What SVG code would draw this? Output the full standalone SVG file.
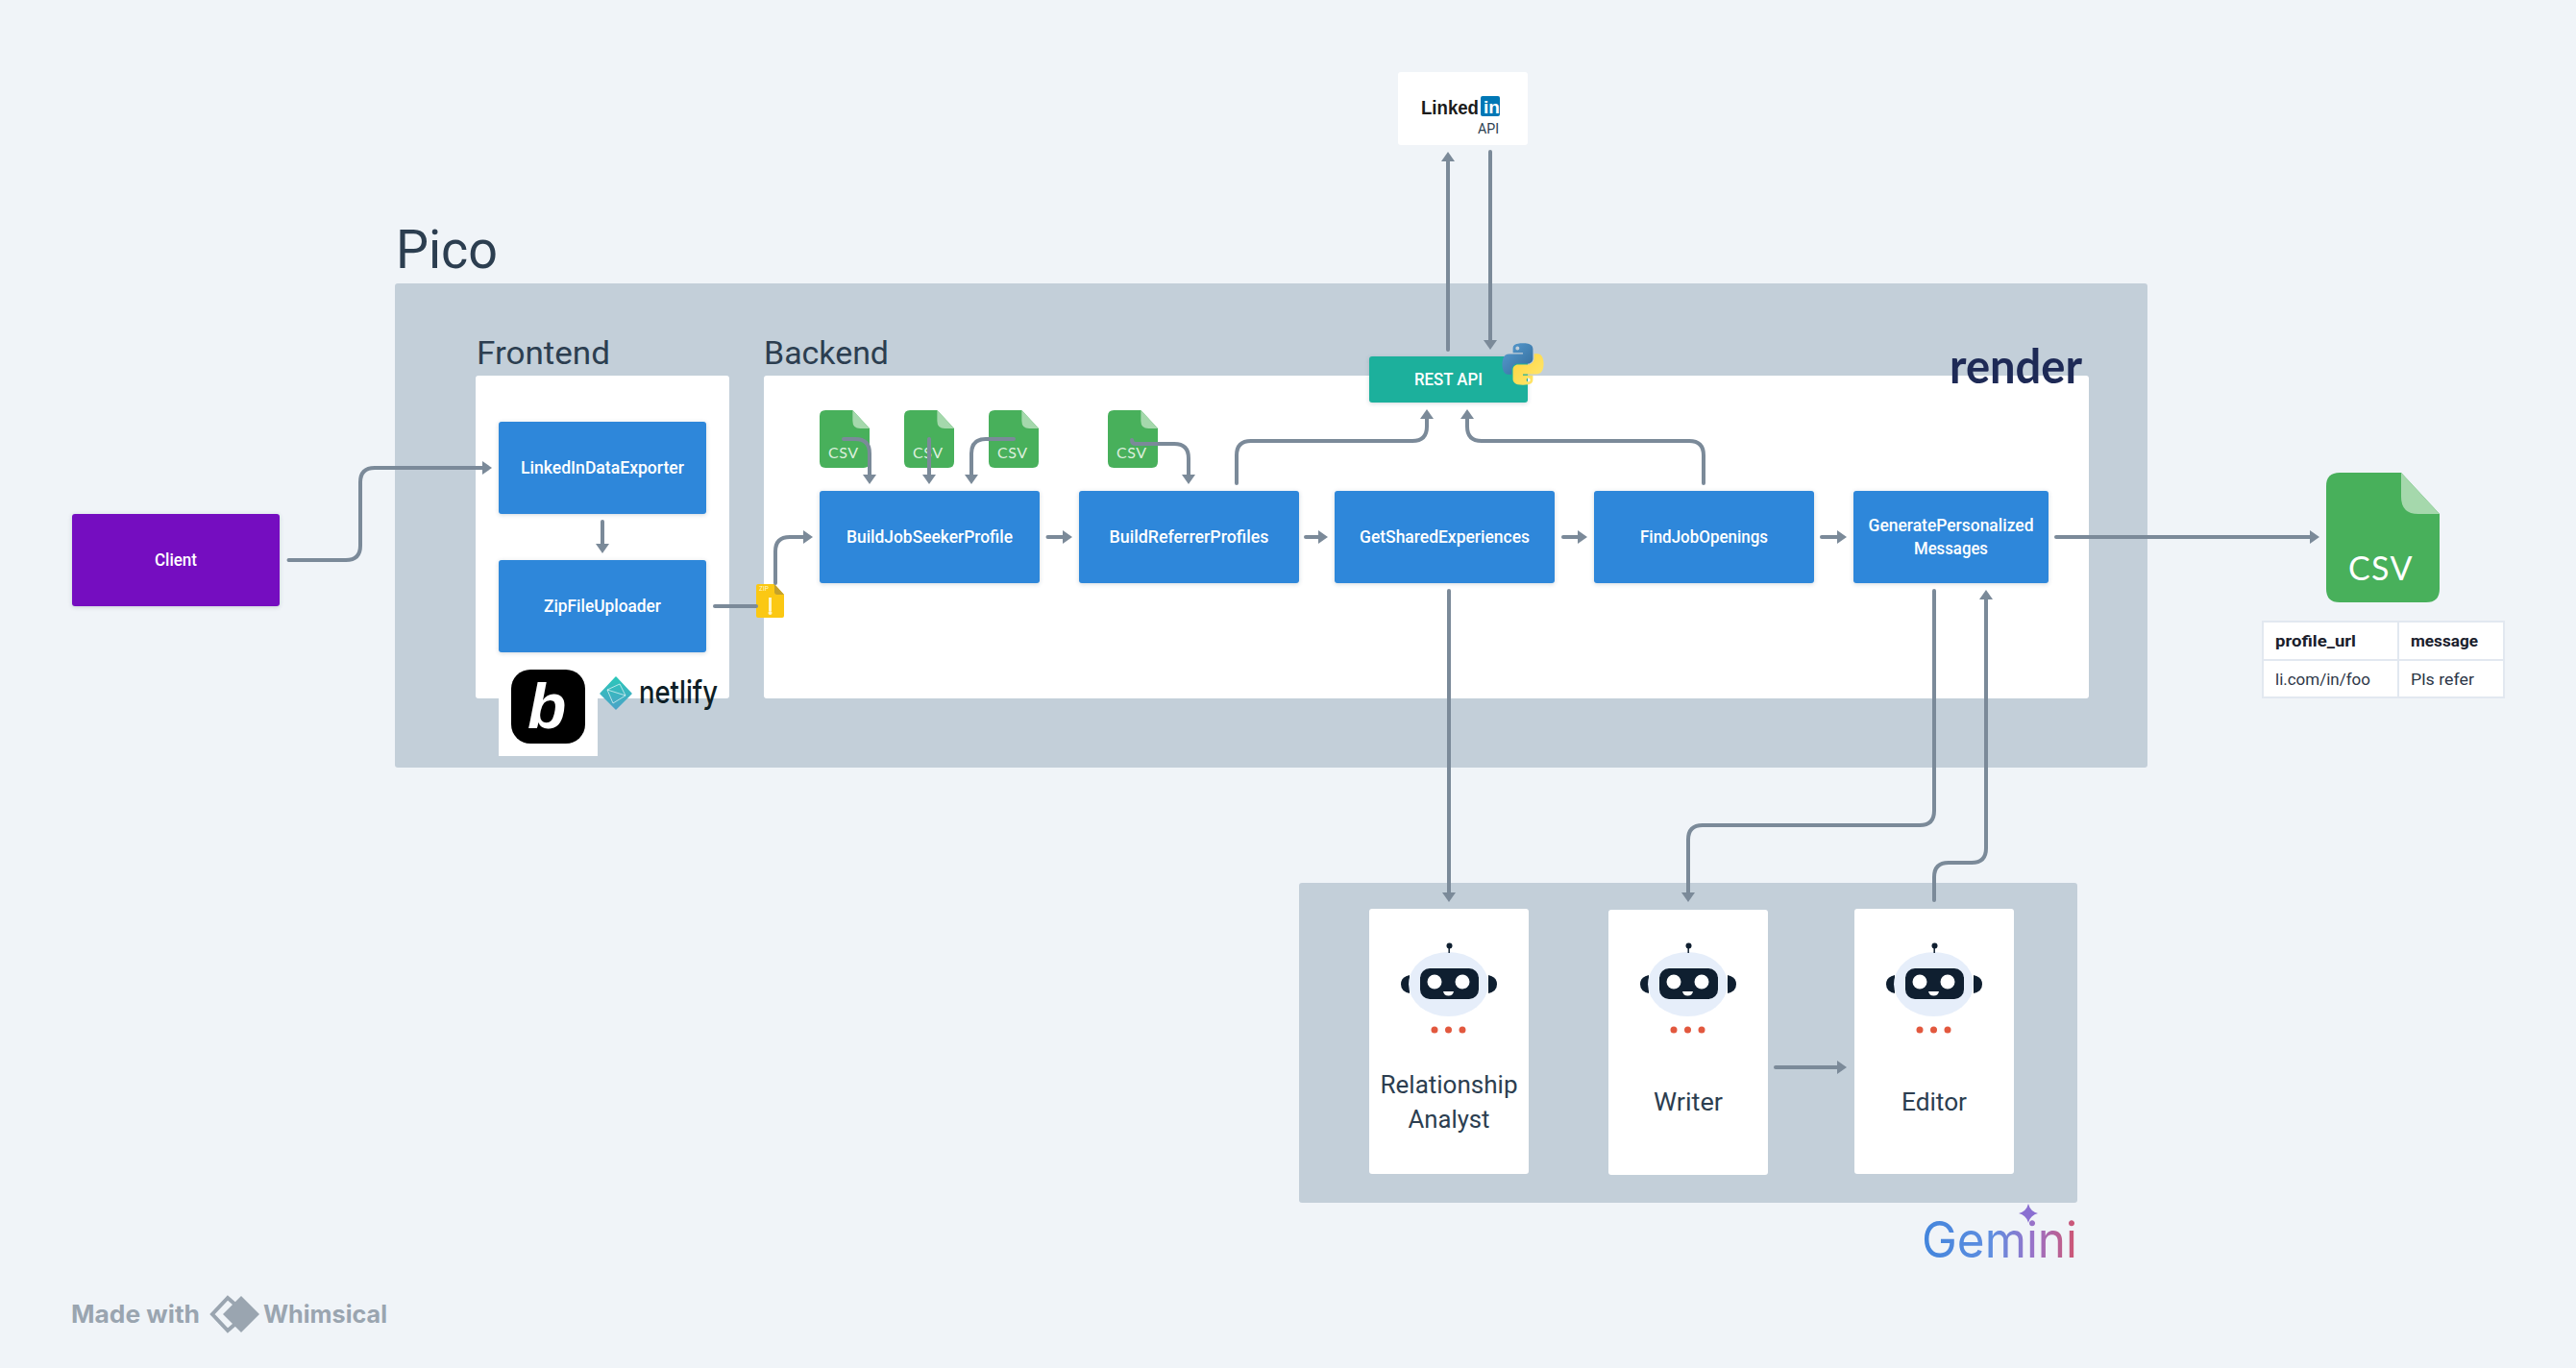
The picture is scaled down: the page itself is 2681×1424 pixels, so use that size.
<svg xmlns="http://www.w3.org/2000/svg" xmlns:xlink="http://www.w3.org/1999/xlink" width="2681" height="1424" viewBox="0 0 2681 1424">
<style>
text{font-family:Roboto,"Liberation Sans",sans-serif}
.panel{fill:#c3cfd9}
.white{fill:#fff}
.blue{fill:#2d87da;filter:url(#sh)}
.nt{fill:#fff;font-size:18px;font-weight:500;text-anchor:middle}
.title{fill:#2c3e50;font-weight:400}
.h2{font-size:34px}
.agent{fill:#2c3e50;font-size:26px;font-weight:400;text-anchor:middle}
.csvt{fill:#dcefdd;font-family:Lato,"Open Sans",sans-serif;font-size:16px;letter-spacing:.5px}
.cell{fill:#2d3748;font-size:17px}
.cellb{fill:#1a202c;font-size:17px;font-weight:700}
.wm{fill:#9aa5b0;font-family:Inter,sans-serif;font-weight:700;font-size:25px}
#connectors path{fill:none;stroke:#7b8a99;stroke-width:4;stroke-linecap:round}
#connectors .a{marker-end:url(#arrow)}
</style>
<defs>
<filter id="sh" x="-5%" y="-5%" width="110%" height="115%"><feDropShadow dx="0" dy="1" stdDeviation="2" flood-color="#3a4a5a" flood-opacity=".22"/></filter>
<marker id="arrow" markerUnits="userSpaceOnUse" viewBox="0 0 10 14" refX="1" refY="7" markerWidth="10" markerHeight="14" orient="auto"><path d="M0 0L10 7L0 14Z" fill="#7b8a99"/></marker>
<symbol id="file" viewBox="0 0 118 135" preserveAspectRatio="none">
<path d="M14 0H78L118 43V121Q118 135 104 135H14Q0 135 0 121V14Q0 0 14 0Z" fill="#48b05b"/>
<path d="M78 0L118 43H96Q78 43 78 25Z" fill="#a5d8ac"/>
</symbol>
<symbol id="robot" viewBox="0 0 100 95" overflow="visible">
<path d="M9 33Q0 35 0 42.500Q0 50 9 52Z" fill="#0f1f30"/>
<path d="M91 33Q100 35 100 42.500Q100 50 91 52Z" fill="#0f1f30"/>
<ellipse cx="49.500" cy="42.500" rx="41.500" ry="33.500" fill="#e6eefa"/>
<rect x="20" y="26" width="61" height="32" rx="10" fill="#0f1f30"/>
<circle cx="35" cy="40" r="7.500" fill="#fff"/>
<circle cx="64" cy="40" r="7.500" fill="#fff"/>
<path d="M44 50H55Q54 54.500 49.500 54.500Q45 54.500 44 50Z" fill="#fff"/>
<path d="M50.200 4V10" stroke="#0f1f30" stroke-width="1.500"/>
<circle cx="50.500" cy="2.500" r="3" fill="#0f1f30"/>
<circle cx="35" cy="90" r="3.500" fill="#e2583e"/>
<circle cx="49.500" cy="90" r="3.500" fill="#e2583e"/>
<circle cx="64" cy="90" r="3.500" fill="#e2583e"/>
</symbol>
<linearGradient id="py1" x1="0" y1="0" x2="1" y2="1"><stop offset="0" stop-color="#5a9fd4"/><stop offset="1" stop-color="#306998"/></linearGradient>
<linearGradient id="py2" x1="0" y1="0" x2="1" y2="1"><stop offset="0" stop-color="#ffe873"/><stop offset="1" stop-color="#ffd43b"/></linearGradient>
<linearGradient id="nf" x1="0" y1="0" x2="0" y2="1"><stop offset="0" stop-color="#2bc7b9"/><stop offset="1" stop-color="#4ba3c7"/></linearGradient>
<linearGradient id="gem" gradientUnits="userSpaceOnUse" x1="2000" y1="0" x2="2162" y2="0"><stop offset="0" stop-color="#4285dc"/><stop offset=".45" stop-color="#5f8ee0"/><stop offset=".72" stop-color="#9a72c8"/><stop offset="1" stop-color="#d0546f"/></linearGradient>
</defs>
<rect width="2681" height="1424" fill="#f0f4f8"/>

<g id="pico">
<text class="title" x="412" y="279" font-size="56" textLength="106" lengthAdjust="spacingAndGlyphs">Pico</text>
<rect class="panel" x="411" y="295" width="1824" height="504" rx="3"/>
</g>
<g id="frontend">
<text class="title h2" x="496" y="379" textLength="139" lengthAdjust="spacingAndGlyphs">Frontend</text>
<rect class="white" x="495" y="391" width="264" height="336" rx="3"/>
<rect class="white" x="519" y="680" width="103" height="107"/>
</g>
<g id="backend">
<text class="title h2" x="795" y="379" textLength="130" lengthAdjust="spacingAndGlyphs">Backend</text>
<rect class="white" x="795" y="391" width="1379" height="336" rx="3"/>
<text id="render" x="2029" y="399" fill="#1e2a56" font-size="50" font-weight="700" textLength="138" lengthAdjust="spacingAndGlyphs" style="font-family:Lato,sans-serif">render</text>
</g>
<g id="client">
<rect x="75" y="535" width="216" height="96" rx="3" fill="#7410c0" filter="url(#sh)"/>
<text class="nt" x="183" y="589" textLength="44" lengthAdjust="spacingAndGlyphs">Client</text>
</g>
<g id="linkedin-exporter">
<rect class="blue" x="519" y="439" width="216" height="96" rx="3"/>
<text class="nt" x="627" y="493" textLength="170" lengthAdjust="spacingAndGlyphs">LinkedInDataExporter</text>
</g>
<g id="zip-uploader">
<rect class="blue" x="519" y="583" width="216" height="96" rx="3"/>
<text class="nt" x="627" y="637" textLength="122" lengthAdjust="spacingAndGlyphs">ZipFileUploader</text>
</g>
<g id="bolt-logo">
<rect x="532" y="697" width="77" height="77" rx="20" fill="#000"/>
<text x="549" y="758" fill="#fff" font-size="66" font-weight="700" font-style="italic" style="font-family:'Liberation Sans',sans-serif">b</text>
</g>
<g id="netlify-logo">
<path d="M641 705L657 722L641 738L625 722Z" fill="url(#nf)" stroke="url(#nf)" stroke-width="1.500" stroke-linejoin="round"/>
<path d="M632 718L645 712M632 718L638 732M645 712L651 724L638 732M632 718L651 724" fill="none" stroke="#fff" stroke-width=".8" opacity=".8"/>
<text x="665" y="732" fill="#0e1e25" font-size="33" font-weight="500" textLength="82" lengthAdjust="spacingAndGlyphs" style="font-family:Inter,sans-serif">netlify</text>
</g>
<g id="zip-file">
<path d="M789 608H806L816 619V641Q816 643 814 643H789Q787 643 787 641V610Q787 608 789 608Z" fill="#fbc813"/>
<path d="M806 608L816 619H809Q806 619 806 616Z" fill="#c3a12c"/>
<text x="790" y="615" fill="#fff6cc" font-size="6.500">ZIP</text>
<rect x="800" y="622" width="3" height="14" fill="#fff6cc"/>
<circle cx="801.500" cy="638" r="2" fill="#fff6cc"/>
</g>
<g id="csv1"><use href="#file" x="853" y="427" width="52" height="60"/><text class="csvt" x="862" y="477">CSV</text></g>
<g id="csv2"><use href="#file" x="941" y="427" width="52" height="60"/><text class="csvt" x="950" y="477">CSV</text></g>
<g id="csv3"><use href="#file" x="1029" y="427" width="52" height="60"/><text class="csvt" x="1038" y="477">CSV</text></g>
<g id="csv4"><use href="#file" x="1153" y="427" width="52" height="60"/><text class="csvt" x="1162" y="477">CSV</text></g>
<g id="build-job-seeker">
<rect class="blue" x="853" y="511" width="229" height="96" rx="3"/>
<text class="nt" x="967.500" y="565" textLength="173" lengthAdjust="spacingAndGlyphs">BuildJobSeekerProfile</text>
</g>
<g id="build-referrer">
<rect class="blue" x="1123" y="511" width="229" height="96" rx="3"/>
<text class="nt" x="1237.500" y="565" textLength="166" lengthAdjust="spacingAndGlyphs">BuildReferrerProfiles</text>
</g>
<g id="get-shared">
<rect class="blue" x="1389" y="511" width="229" height="96" rx="3"/>
<text class="nt" x="1503.500" y="565" textLength="177" lengthAdjust="spacingAndGlyphs">GetSharedExperiences</text>
</g>
<g id="find-job">
<rect class="blue" x="1659" y="511" width="229" height="96" rx="3"/>
<text class="nt" x="1773.500" y="565" textLength="133" lengthAdjust="spacingAndGlyphs">FindJobOpenings</text>
</g>
<g id="generate">
<rect class="blue" x="1929" y="511" width="203" height="96" rx="3"/>
<text class="nt" x="2030.500" y="553" textLength="172" lengthAdjust="spacingAndGlyphs">GeneratePersonalized</text>
<text class="nt" x="2030.500" y="577" textLength="77" lengthAdjust="spacingAndGlyphs">Messages</text>
</g>
<g id="rest-api">
<rect x="1425" y="371" width="165" height="48" rx="3" fill="#1bb09c" filter="url(#sh)"/>
<text class="nt" x="1507.500" y="401" textLength="71" lengthAdjust="spacingAndGlyphs">REST API</text>
<g transform="translate(1563 357) scale(.4)">
<path d="M54.900 .9C50.300 .9 46 1.300 42.200 2C31 4 29 8.100 29 15.700V25.700H55V29H19.200C11.600 29 5 33.600 2.900 42.200C.5 52.200 .4 58.400 2.900 68.800C4.800 76.600 9.200 82.100 16.800 82.100H25.800V70.100C25.800 61.400 33.300 53.800 42.100 53.800H68.100C75.300 53.800 81.100 47.800 81.100 40.600V15.700C81.100 8.600 75.100 3.300 68.100 2.100C63.600 1.300 59.500 .9 54.900 .9ZM40.900 8.900C43.600 8.900 45.800 11.100 45.800 13.800C45.800 16.500 43.600 18.700 40.900 18.700C38.200 18.700 36 16.500 36 13.800C36 11.100 38.200 8.900 40.900 8.900Z" fill="url(#py1)"/>
<path transform="rotate(180 55 55)" d="M54.900 .9C50.300 .9 46 1.300 42.200 2C31 4 29 8.100 29 15.700V25.700H55V29H19.200C11.600 29 5 33.600 2.900 42.200C.5 52.200 .4 58.400 2.900 68.800C4.800 76.600 9.200 82.100 16.800 82.100H25.800V70.100C25.800 61.400 33.300 53.800 42.100 53.800H68.100C75.300 53.800 81.100 47.800 81.100 40.600V15.700C81.100 8.600 75.100 3.300 68.100 2.100C63.600 1.300 59.500 .9 54.900 .9ZM40.900 8.900C43.600 8.900 45.800 11.100 45.800 13.800C45.800 16.500 43.600 18.700 40.900 18.700C38.200 18.700 36 16.500 36 13.800C36 11.100 38.200 8.900 40.900 8.900Z" fill="url(#py2)"/>
</g>
</g>
<g id="linkedin-api">
<rect class="white" x="1455" y="75" width="135" height="76" rx="3"/>
<text x="1479" y="119" fill="#1b1b1b" font-size="21" font-weight="700" textLength="60" lengthAdjust="spacingAndGlyphs" style="font-family:'Liberation Sans',sans-serif">Linked</text>
<rect x="1541" y="100" width="20" height="21" rx="2" fill="#0077b5"/>
<text x="1544" y="118" fill="#fff" font-size="19" font-weight="700" style="font-family:'Liberation Sans',sans-serif">in</text>
<text x="1538" y="139" fill="#2c3e50" font-size="15" textLength="22" lengthAdjust="spacingAndGlyphs">API</text>
</g>
<g id="csv-output">
<use href="#file" x="2421" y="492" width="118" height="135"/>
<text x="2478" y="604" fill="#fff" font-size="34" letter-spacing="1.500" text-anchor="middle" style="font-family:Lato,sans-serif">CSV</text>
</g>
<g id="csv-table">
<rect class="white" x="2355" y="647" width="251" height="79" stroke="#e2e8f0" stroke-width="2"/>
<path d="M2496 647V726M2355 687H2606" stroke="#e2e8f0" stroke-width="2"/>
<text class="cellb" x="2368" y="673" textLength="84" lengthAdjust="spacingAndGlyphs">profile_url</text>
<text class="cellb" x="2509" y="673" textLength="70" lengthAdjust="spacingAndGlyphs">message</text>
<text class="cell" x="2368" y="713" textLength="99" lengthAdjust="spacingAndGlyphs">li.com/in/foo</text>
<text class="cell" x="2509" y="713" textLength="66" lengthAdjust="spacingAndGlyphs">Pls refer</text>
</g>
<g id="gemini-group">
<rect class="panel" x="1352" y="919" width="810" height="333" rx="3"/>
<text x="2000" y="1309" fill="url(#gem)" font-size="52" textLength="162" lengthAdjust="spacingAndGlyphs" style="font-family:Inter,sans-serif;font-weight:400">Gemini</text>
<path d="M2111 1253Q2113 1261 2121 1263Q2113 1265 2111 1273Q2109 1265 2101 1263Q2109 1261 2111 1253Z" fill="#8a6fd1"/>
</g>
<g id="relationship-analyst">
<rect class="white" x="1425" y="946" width="166" height="276" rx="3"/>
<use href="#robot" x="1458" y="982" width="100" height="95"/>
<text class="agent" x="1508" y="1138" textLength="143" lengthAdjust="spacingAndGlyphs">Relationship</text>
<text class="agent" x="1508" y="1174" textLength="85" lengthAdjust="spacingAndGlyphs">Analyst</text>
</g>
<g id="writer">
<rect class="white" x="1674" y="947" width="166" height="276" rx="3"/>
<use href="#robot" x="1707" y="982" width="100" height="95"/>
<text class="agent" x="1757" y="1156" textLength="72" lengthAdjust="spacingAndGlyphs">Writer</text>
</g>
<g id="editor">
<rect class="white" x="1930" y="946" width="166" height="276" rx="3"/>
<use href="#robot" x="1963" y="982" width="100" height="95"/>
<text class="agent" x="2013" y="1156" textLength="68" lengthAdjust="spacingAndGlyphs">Editor</text>
</g>
<g id="connectors">
<path class="a" d="M300.500 583H360Q375 583 375 568V502Q375 487 390 487H503"/>
<path class="a" d="M627 543V567"/>
<path d="M744 631H787"/>
<path class="a" d="M807 607V574Q807 559 822 559H837"/>
<path class="a" d="M878 457H890Q905 457 905 472V495"/>
<path class="a" d="M967 457V495"/>
<path class="a" d="M1055 457H1026Q1011 457 1011 472V495"/>
<path class="a" d="M1178 458Q1178 462 1182 462H1222Q1237 462 1237 477V495"/>
<path class="a" d="M1090.500 559H1107"/>
<path class="a" d="M1359 559H1373"/>
<path class="a" d="M1627 559H1643"/>
<path class="a" d="M1896 559H1913"/>
<path class="a" d="M1287 503V474Q1287 459 1302 459H1470Q1485 459 1485 444V435"/>
<path class="a" d="M1773 503V474Q1773 459 1758 459H1542Q1527 459 1527 444V435"/>
<path class="a" d="M1507 364V167"/>
<path class="a" d="M1551 158V355"/>
<path class="a" d="M2140 559H2405"/>
<path class="a" d="M1508 615V930"/>
<path class="a" d="M2013 615V844Q2013 859 1998 859H1772Q1757 859 1757 874V930"/>
<path class="a" d="M2013 937V913Q2013 898 2028 898H2052Q2067 898 2067 883V623"/>
<path class="a" d="M1848 1111H1913"/>
</g>
<g id="whimsical-badge">
<text class="wm" x="74" y="1377" textLength="134" lengthAdjust="spacingAndGlyphs">Made with</text>
<polyline points="245,1358 237,1351 221,1368 237,1385 245,1378" fill="none" stroke="#9aa5b0" stroke-width="4"/>
<path d="M251 1349L270 1368L251 1387L232 1368Z" fill="#9aa5b0"/>
<text class="wm" x="274" y="1377" textLength="129" lengthAdjust="spacingAndGlyphs">Whimsical</text>
</g>
</svg>
